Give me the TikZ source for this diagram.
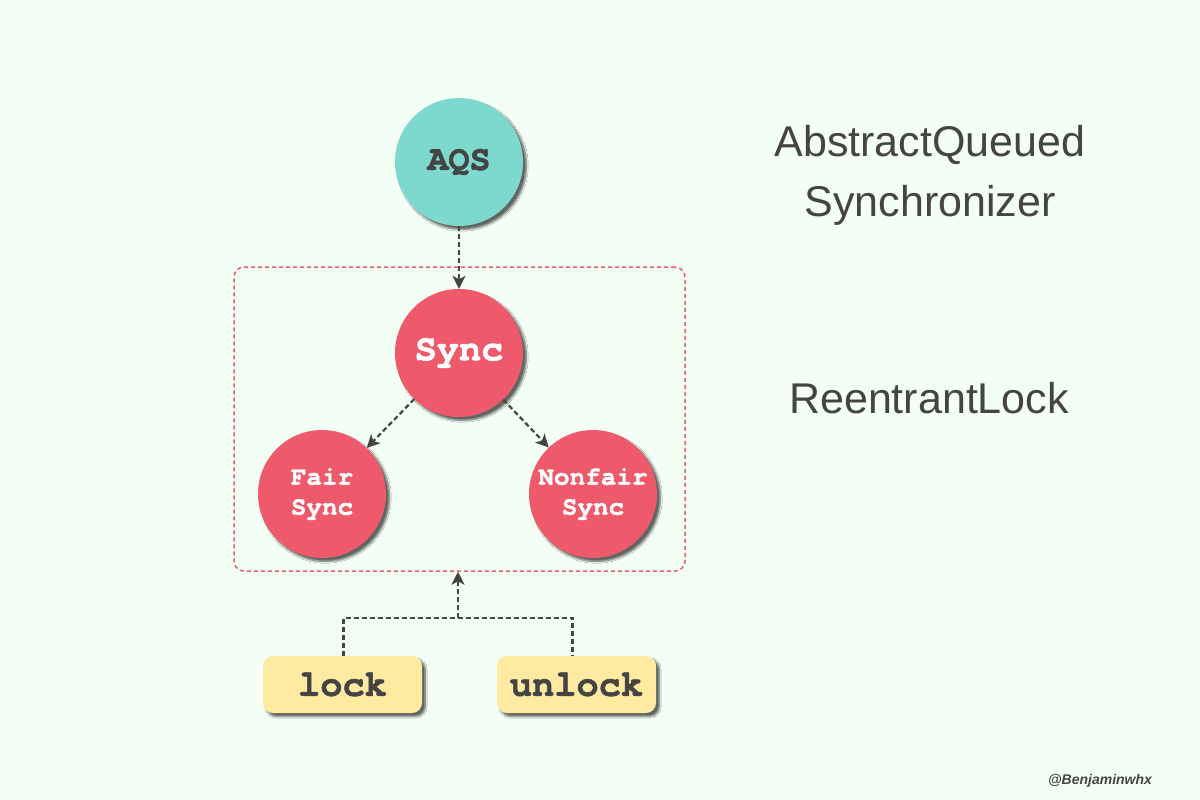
\documentclass[tikz,border=0pt]{standalone}
\usepackage{fontspec}
\newfontfamily\monob[BoldFeatures={FakeBold=1.6}]{TeX Gyre Cursor}
\newfontfamily\hand{Liberation Sans}
\usetikzlibrary{arrows.meta,shadows.blur}
\definecolor{bg}{HTML}{F3FEF4}
\definecolor{aqs}{HTML}{7DD8CD}
\definecolor{syncred}{HTML}{EE5A6C}
\definecolor{lockyel}{HTML}{FEEAA0}
\definecolor{ink}{HTML}{444444}
\tikzset{
  shad/.style={blur shadow={shadow xshift=3.5pt, shadow yshift=-3.5pt, shadow blur steps=6, shadow opacity=60}},
  circ/.style={circle, minimum size=128pt, inner sep=0pt, shad},
  aqsnode/.style={circ, fill=aqs, text=ink, font=\monob\bfseries\fontsize{35}{35}\selectfont},
  syncnode/.style={circ, fill=syncred, text=white},
  lockbox/.style={rounded corners=10pt, fill=lockyel, minimum width=159pt, minimum height=57pt, inner sep=0pt, shad, text=ink, font=\monob\bfseries\fontsize{37}{37}\selectfont},
  conn/.style={draw=ink, line width=2.2pt, dash pattern=on 5pt off 3pt, -{Stealth[length=13pt,width=13pt,inset=3.5pt]}},
  connplain/.style={draw=ink, line width=2.2pt, dash pattern=on 5pt off 3pt},
  grpbox/.style={draw=syncred, line width=1.5pt, dash pattern=on 4pt off 3pt, rounded corners=10pt, minimum width=451pt, minimum height=304pt, inner sep=0pt},
  label/.style={text=ink, font=\hand\fontsize{43}{60}\selectfont, align=center}
}
\begin{document}
\begin{tikzpicture}[x=1pt,y=-1pt]
\fill[bg] (0,0) rectangle (1200,800);
\useasboundingbox (0,0) rectangle (1200,800);
\node[grpbox] (grp) at (459.5,419) {};
\node[aqsnode] (aqs) at (459,162) {AQS};
\node[syncnode, font=\monob\bfseries\fontsize{37}{37}\selectfont] (sync) at (459,353) {Sync};
\node[syncnode, align=center, font=\monob\bfseries\fontsize{26}{30}\selectfont] (fair) at (322,494) {Fair\\Sync};
\node[syncnode, align=center, font=\monob\bfseries\fontsize{26}{30}\selectfont] (nonfair) at (593,494) {Nonfair\\Sync};
\node[lockbox] (lock) at (342.5,684.5) {lock};
\node[lockbox] (unlock) at (576.5,684.5) {unlock};
\draw[conn] (aqs) -- (sync);
\draw[conn] (sync) -- (fair);
\draw[conn] (sync) -- (nonfair);
\draw[connplain] ([xshift=1pt]lock.north) -- ++(0,-38) coordinate (lj) -| ([xshift=-4pt]unlock.north);
\coordinate (join) at (458,618);
\draw[conn] (join) -- (join |- grp.south);
\node[label] (t1) at (930,145) {AbstractQueued};
\node[label] (t2) at (930,205) {Synchronizer};
\node[label] (t3) at (929,398) {ReentrantLock};
\node[text=ink, font=\hand\bfseries\itshape\fontsize{14}{14}\selectfont] (wm) at (1100,781) {@Benjaminwhx};
\end{tikzpicture}
\end{document}
